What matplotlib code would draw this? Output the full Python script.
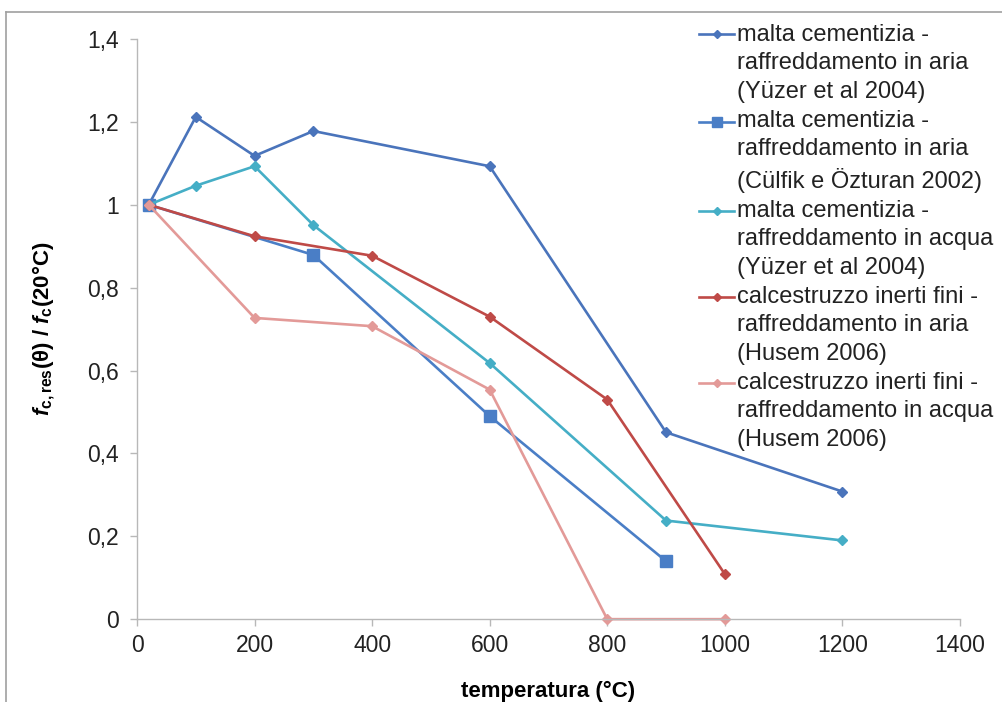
import numpy as np
import matplotlib
matplotlib.use("Agg")
import matplotlib.pyplot as plt
from matplotlib.lines import Line2D
from matplotlib.legend_handler import HandlerLine2D

plt.rcParams['font.family'] = ['Liberation Sans', 'DejaVu Sans']
plt.rcParams['mathtext.fontset'] = 'custom'
plt.rcParams['mathtext.rm'] = 'Liberation Sans:bold'
plt.rcParams['mathtext.it'] = 'Liberation Sans:bold:italic'
plt.rcParams['mathtext.bf'] = 'Liberation Sans:bold'

# data
t_yuzer = [20, 100, 200, 300, 600, 900, 1200]
yuzer_aria = [1.0, 1.212, 1.118, 1.178, 1.093, 0.451, 0.308]
yuzer_acqua = [1.0, 1.046, 1.093, 0.951, 0.618, 0.238, 0.190]

t_culfik = [20, 300, 600, 900]
culfik_aria = [1.0, 0.879, 0.490, 0.140]

t_husem = [20, 200, 400, 600, 800, 1000]
husem_aria = [1.0, 0.924, 0.877, 0.730, 0.530, 0.109]
husem_acqua = [1.0, 0.727, 0.707, 0.554, 0.0, 0.0]

labels = [
    "malta cementizia -\nraffreddamento in aria\n(Yüzer et al 2004)",
    "malta cementizia -\nraffreddamento in aria\n(Cülfik e Özturan 2002)",
    "malta cementizia -\nraffreddamento in acqua\n(Yüzer et al 2004)",
    "calcestruzzo inerti fini -\nraffreddamento in aria\n(Husem 2006)",
    "calcestruzzo inerti fini -\nraffreddamento in acqua\n(Husem 2006)",
]

LEG_FS = 17
LINE_PT = 21.0  # one text line, in points: handle goes next to the first line


class TopHandler(HandlerLine2D):
    # excel puts the legend symbol next to the first line of the label
    def create_artists(self, legend, orig_handle, xdescent, ydescent,
                       width, height, fontsize, trans):
        return super().create_artists(legend, orig_handle, xdescent,
                                      ydescent - 2 * LINE_PT, width, height,
                                      fontsize, trans)


fig = plt.figure(figsize=(10.03, 7.02), dpi=100)
ax = fig.add_axes([0.1366, 0.118, 0.8204, 0.8264])

lw = 1.9
l1, = ax.plot(t_yuzer, yuzer_aria, color='#4a74bb', lw=lw, marker='D', ms=5.5)
l2, = ax.plot(t_culfik, culfik_aria, color='#4a7ec6', lw=lw, marker='s', ms=8.5)
l3, = ax.plot(t_yuzer, yuzer_acqua, color='#45aec6', lw=lw, marker='D', ms=5.5)
l4, = ax.plot(t_husem, husem_aria, color='#bf4a47', lw=lw, marker='D', ms=5.5)
l5, = ax.plot(t_husem, husem_acqua, color='#e39a98', lw=lw, marker='D', ms=5.5)
for l in (l1, l2, l3, l4, l5):
    l.set_clip_on(False)

ax.set_xlim(0, 1400)
ax.set_ylim(0, 1.4)
ax.set_xticks(np.arange(0, 1401, 200))
ax.set_yticks([0, 0.2, 0.4, 0.6, 0.8, 1.0, 1.2, 1.4])
ax.set_yticklabels(['0', '0,2', '0,4', '0,6', '0,8', '1', '1,2', '1,4'])
for s in ('top', 'right'):
    ax.spines[s].set_visible(False)
for s in ('left', 'bottom'):
    ax.spines[s].set_color('#b8b8b8')
    ax.spines[s].set_linewidth(1.0)
ax.tick_params(axis='both', colors='#b8b8b8', labelcolor='#222222',
               labelsize=16.5, length=5, width=1.0)
ax.tick_params(axis='y', pad=8)
ax.tick_params(axis='x', pad=6)

ax.set_xlabel('temperatura (°C)', fontsize=16, fontweight='bold', labelpad=17)
ax.set_ylabel(r'$f_{\mathrm{c,res}}$(θ) / $f_{\mathrm{c}}$(20°C)',
              fontsize=16, fontweight='bold', labelpad=22)

handler = TopHandler()
leg = fig.legend([l1, l2, l3, l4, l5], labels, loc='upper left',
                 bbox_to_anchor=(0.697, 0.966), frameon=False, fontsize=LEG_FS,
                 handlelength=1.48, handletextpad=0.12, labelspacing=0.3,
                 markerscale=0.8, borderaxespad=0, borderpad=0,
                 handler_map={Line2D: handler})
for txt in leg.get_texts():
    txt.set_linespacing(1.38)
    txt.set_color('#222222')

# outer frame of the exported chart
fig.add_artist(Line2D([6 / 1003, 1.0], [1 - 12 / 702, 1 - 12 / 702],
                      transform=fig.transFigure, color='#a0a0a0', lw=1.2))
fig.add_artist(Line2D([6 / 1003, 6 / 1003], [0.0, 1 - 12 / 702],
                      transform=fig.transFigure, color='#a0a0a0', lw=1.2))

fig.savefig('out.png', dpi=100)
